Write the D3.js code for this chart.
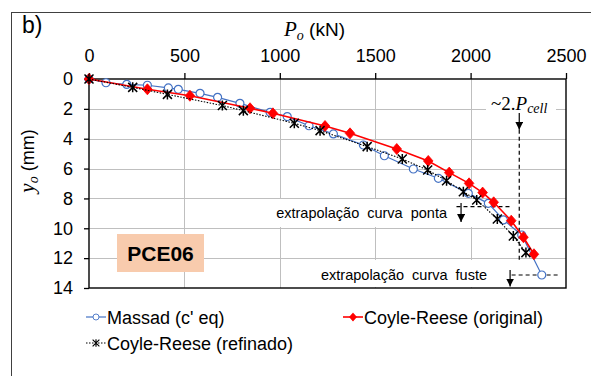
<!DOCTYPE html>
<html>
<head>
<meta charset="utf-8">
<script src="https://cdn.jsdelivr.net/npm/d3@7/dist/d3.min.js"></script>
<style>
  html, body { margin: 0; padding: 0; background: #fff; }
  svg { display: block; }
</style>
</head>
<body>
<svg id="chart" width="591" height="376" font-family="'Liberation Sans', Arial, sans-serif"></svg>
<script>
// Load–settlement curves, pile PCE06
const massadLoad   = [0, 89, 198, 306, 416, 468, 582, 674, 791, 949, 1039, 1153, 1281, 1438, 1548, 1700, 1831, 1988, 2093, 2172, 2268, 2373];
const massadSettle = [0, 0.25, 0.36, 0.42, 0.6, 0.69, 0.96, 1.23, 1.63, 2.23, 2.52, 3.13, 3.68, 4.42, 5.14, 6.03, 6.65, 7.66, 8.33, 9.44, 10.45, 13.13];

const crOrigLoad   = [0, 306, 529, 844, 964, 1237, 1368, 1613, 1778, 1888, 1992, 2063, 2121, 2213, 2277, 2332];
const crOrigSettle = [0, 0.69, 1.12, 1.96, 2.3, 3.15, 3.64, 4.69, 5.49, 6.27, 6.99, 7.61, 8.26, 9.49, 10.6, 11.74];

const crRefLoad    = [0, 229, 411, 699, 809, 1076, 1211, 1458, 1642, 1775, 1874, 1962, 2032, 2140, 2224, 2290];
const crRefSettle  = [0, 0.56, 1.03, 1.78, 2.12, 2.97, 3.46, 4.53, 5.36, 6.1, 6.81, 7.55, 8.1, 9.38, 10.52, 11.63];

const loadTicks   = [0, 500, 1000, 1500, 2000, 2500];
const settleTicks = [0, 2, 4, 6, 8, 10, 12, 14];

const seriesNames = ["Massad (c' eq)", "Coyle-Reese (original)", "Coyle-Reese (refinado)"];

// Reference marks (kN, mm)
const pCellLoad = 2255;
const pCellArrow = [2.28, 3.4];
const pCellDrop = [3.4, 12.1];
const pontaArrow = { load: 1950, from: 8.3, to: 9.58 };
const pontaDash  = { from: 1926, to: 2206, settle: 8.55 };
const fusteArrow = { load: 2207, from: 12.8, to: 13.9 };
const fusteDash  = { from: 2215, to: 2463, settle: 13.13 };

const svg = d3.select("#chart");
const SANS = "'Liberation Sans', Arial, sans-serif";
const SERIF = "'Liberation Serif', 'Times New Roman', serif";

const plotL = 89, plotR = 566, plotT = 79, plotB = 288;
const x = d3.scaleLinear().domain([0, 2500]).range([plotL, plotR]);
const y = d3.scaleLinear().domain([0, 14]).range([plotT, plotB]);

// outer frame
svg.append("rect").attr("x", 11.5).attr("y", 12.5).attr("width", 640).attr("height", 420)
  .attr("fill", "none").attr("stroke", "#404040").attr("stroke-width", 1);

svg.append("text").attr("x", 22).attr("y", 33).attr("font-size", 23).attr("fill", "#000").text("b)");

// grid
const grid = svg.append("g").attr("stroke", "#bfbfbf").attr("stroke-width", 1);
loadTicks.filter(v => v > 0 && v < 2500).forEach(v => {
  grid.append("line").attr("x1", Math.round(x(v)) + 0.5).attr("x2", Math.round(x(v)) + 0.5)
    .attr("y1", plotT).attr("y2", plotB);
});
settleTicks.filter(v => v > 0 && v < 14).forEach(v => {
  grid.append("line").attr("y1", Math.round(y(v)) + 0.5).attr("y2", Math.round(y(v)) + 0.5)
    .attr("x1", plotL).attr("x2", plotR);
});

// axes
const fmt = d3.format("d");
const axTop = svg.append("g").attr("transform", `translate(0,${plotT})`)
  .call(d3.axisTop(x).tickValues(loadTicks).tickFormat(fmt).tickSize(6).tickPadding(11).tickSizeOuter(0));
const axLeft = svg.append("g").attr("transform", `translate(${plotL},0)`)
  .call(d3.axisLeft(y).tickValues(settleTicks).tickFormat(fmt).tickSize(5).tickPadding(11).tickSizeOuter(0));
[axTop, axLeft].forEach(a => {
  a.select(".domain").remove();
  a.selectAll("line").attr("stroke", "#000").attr("stroke-width", 1.3);
  a.selectAll("text").attr("font-family", SANS).attr("font-size", 18).attr("fill", "#000");
});

// plot border
svg.append("rect").attr("x", plotL).attr("y", plotT).attr("width", plotR - plotL).attr("height", plotB - plotT)
  .attr("fill", "none").attr("stroke", "#000").attr("stroke-width", 1.4);

// axis titles
const xt = svg.append("text").attr("x", 284).attr("y", 36).attr("fill", "#000");
xt.append("tspan").attr("font-family", SERIF).attr("font-style", "italic").attr("font-size", 21).text("P");
xt.append("tspan").attr("font-family", SERIF).attr("font-style", "italic").attr("font-size", 14).attr("dy", 4).text("o");
xt.append("tspan").attr("font-family", SANS).attr("font-size", 19).attr("dy", -4).text(" (kN)");

const yt = svg.append("text").attr("transform", "translate(34,161) rotate(-90)")
  .attr("text-anchor", "middle").attr("fill", "#000");
yt.append("tspan").attr("font-family", SERIF).attr("font-style", "italic").attr("font-size", 21).text("y");
yt.append("tspan").attr("font-family", SERIF).attr("font-style", "italic").attr("font-size", 14).attr("dy", 4).text("o");
yt.append("tspan").attr("font-family", SANS).attr("font-size", 18).attr("dy", -4).text(" (mm)");

// annotation backgrounds and texts
svg.append("rect").attr("x", 486).attr("y", 92).attr("width", 70).attr("height", 22).attr("fill", "#fff");
const pc = svg.append("text").attr("x", 491).attr("y", 110).attr("fill", "#000").attr("font-family", SERIF);
pc.append("tspan").attr("font-size", 19).text("~2.");
pc.append("tspan").attr("font-size", 19).attr("font-style", "italic").text("P");
pc.append("tspan").attr("font-size", 14).attr("font-style", "italic").attr("dy", 3).text("cell");

svg.append("rect").attr("x", 272).attr("y", 199).attr("width", 203).attr("height", 28).attr("fill", "#fff");
svg.append("text").attr("x", 447).attr("y", 218).attr("text-anchor", "end")
  .attr("font-size", 14.5).attr("word-spacing", 4).attr("fill", "#000").text("extrapolação curva ponta");

svg.append("rect").attr("x", 316).attr("y", 260).attr("width", 186).attr("height", 27).attr("fill", "#fff");
svg.append("text").attr("x", 487).attr("y", 280).attr("text-anchor", "end")
  .attr("font-size", 14.5).attr("word-spacing", 4).attr("fill", "#000").text("extrapolação curva fuste");

// arrows and dashed guides
const defs = svg.append("defs");
defs.append("marker").attr("id", "head").attr("viewBox", "0 0 10 10").attr("refX", 10).attr("refY", 5)
  .attr("markerWidth", 8).attr("markerHeight", 8).attr("markerUnits", "userSpaceOnUse").attr("orient", "auto")
  .append("path").attr("d", "M0,0 L10,5 L0,10 Z").attr("fill", "#000");

const ann = svg.append("g").attr("stroke", "#000").attr("stroke-width", 1.2).attr("fill", "none");
ann.append("line").attr("x1", x(pCellLoad)).attr("x2", x(pCellLoad)).attr("y1", y(pCellArrow[0])).attr("y2", y(pCellArrow[1]))
  .attr("marker-end", "url(#head)");
ann.append("line").attr("x1", x(pCellLoad)).attr("x2", x(pCellLoad)).attr("y1", y(pCellDrop[0])).attr("y2", y(pCellDrop[1]))
  .attr("stroke-dasharray", "4,3");
ann.append("line").attr("x1", x(pontaDash.from)).attr("x2", x(pontaDash.to)).attr("y1", y(pontaDash.settle)).attr("y2", y(pontaDash.settle))
  .attr("stroke-dasharray", "4,3");
ann.append("line").attr("x1", x(pontaArrow.load)).attr("x2", x(pontaArrow.load)).attr("y1", y(pontaArrow.from)).attr("y2", y(pontaArrow.to))
  .attr("marker-end", "url(#head)");
ann.append("line").attr("x1", x(fusteDash.from)).attr("x2", x(fusteDash.to)).attr("y1", y(fusteDash.settle)).attr("y2", y(fusteDash.settle))
  .attr("stroke-dasharray", "4,3");
ann.append("line").attr("x1", x(fusteArrow.load)).attr("x2", x(fusteArrow.load)).attr("y1", y(fusteArrow.from)).attr("y2", y(fusteArrow.to))
  .attr("marker-end", "url(#head)");

// PCE06 tag
svg.append("rect").attr("x", 117).attr("y", 234).attr("width", 87).attr("height", 38).attr("fill", "#f8cbad");
svg.append("text").attr("x", 160.5).attr("y", 261).attr("text-anchor", "middle")
  .attr("font-size", 21).attr("font-weight", "bold").attr("fill", "#000").text("PCE06");

// marker shapes
const circlePath = "M4,0 A4,4 0 1,1 -4,0 A4,4 0 1,1 4,0 Z";
const diamondPath = "M0,-5.5 L4.8,0 L0,5.5 L-4.8,0 Z";
const starPath = "M-4.5,-4.5 L4.5,4.5 M-4.5,4.5 L4.5,-4.5 M0,-5 L0,5";

const styles = [
  { line: "#4472c4", lw: 1.2, dash: null, mark: circlePath, fill: "#fff", stroke: "#4472c4", msw: 1.2 },
  { line: "#ff0000", lw: 1.6, dash: null, mark: diamondPath, fill: "#ff0000", stroke: "#ff0000", msw: 0.8 },
  { line: "#000", lw: 1.1, dash: "1.5,1.5", mark: starPath, fill: "none", stroke: "#000", msw: 1.5 }
];
const seriesData = [
  d3.zip(massadLoad, massadSettle),
  d3.zip(crOrigLoad, crOrigSettle),
  d3.zip(crRefLoad, crRefSettle)
];

const lineGen = d3.line().x(d => x(d[0])).y(d => y(d[1]));
seriesData.forEach((data, i) => {
  const s = styles[i];
  const g = svg.append("g");
  g.append("path").datum(data).attr("d", lineGen).attr("fill", "none")
    .attr("stroke", s.line).attr("stroke-width", s.lw).attr("stroke-dasharray", s.dash);
  g.selectAll("path.m").data(data).join("path").attr("class", "m")
    .attr("transform", d => `translate(${x(d[0])},${y(d[1])})`)
    .attr("d", s.mark).attr("fill", s.fill).attr("stroke", s.stroke).attr("stroke-width", s.msw);
});

// legend
const legendPos = [[86, 317], [343, 317], [86, 343]];
seriesNames.forEach((name, i) => {
  const s = styles[i];
  const [lx, ly] = legendPos[i];
  const g = svg.append("g").attr("transform", `translate(${lx},${ly})`);
  g.append("line").attr("x1", 0).attr("x2", 20).attr("y1", 0).attr("y2", 0)
    .attr("stroke", s.line).attr("stroke-width", s.lw).attr("stroke-dasharray", s.dash);
  g.append("path").attr("transform", "translate(10,0) scale(0.75)").attr("d", s.mark)
    .attr("fill", s.fill).attr("stroke", s.stroke).attr("stroke-width", s.msw);
  g.append("text").attr("x", 21).attr("y", 6.5).attr("font-size", 18).attr("fill", "#000").text(name);
});
</script>
</body>
</html>
